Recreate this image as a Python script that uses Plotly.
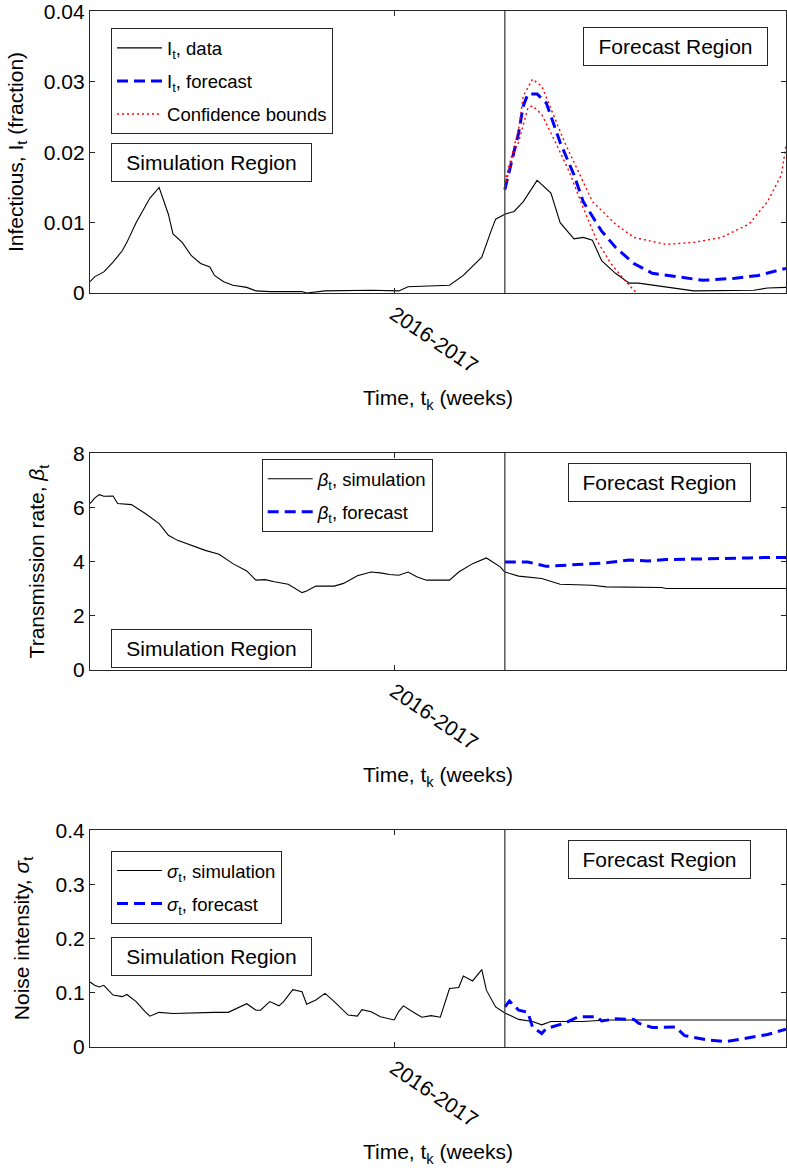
import plotly.graph_objects as go

FONT = "Liberation Sans, Arial, sans-serif"
AX = "#262626"

# ---------------- data ----------------
x_range = [0, 151]
forecast_start = 90
tick_week = [66]
tick_text = ["2016-2017"]

I_ticks = [0, 0.01, 0.02, 0.03, 0.04]
I_tick_text = ["0", "0.01", "0.02", "0.03", "0.04"]
beta_ticks = [0, 2, 4, 6, 8]
beta_tick_text = ["0", "2", "4", "6", "8"]
sig_ticks = [0, 0.1, 0.2, 0.3, 0.4]
sig_tick_text = ["0", "0.1", "0.2", "0.3", "0.4"]

# Top panel: infectious fraction
I_data_w = [0, 1, 3, 5, 7, 8, 10, 12, 13, 15, 17, 18, 20, 22, 24, 26, 27, 29, 31, 34,
            36, 39, 46, 47, 51, 61, 67, 69, 78, 81, 85, 87, 88, 90, 92, 94, 97, 100, 102, 105,
            107, 109, 111, 114, 117, 119, 124, 131, 144, 147, 151]
I_data_v = [0.0016, 0.0023, 0.0030, 0.0044, 0.0060, 0.0072, 0.0100, 0.0123, 0.0135, 0.0150,
            0.0112, 0.0084, 0.0072, 0.0053, 0.0042, 0.0037, 0.0025, 0.0016, 0.0011, 0.0008,
            0.0003, 0.0002, 0.0002, 0.0000, 0.0003, 0.0004, 0.0003, 0.0009, 0.0011, 0.0025,
            0.0051, 0.0088, 0.0105, 0.0112, 0.0116, 0.0130, 0.0160, 0.0142, 0.0100, 0.0077,
            0.0079, 0.0075, 0.0046, 0.0028, 0.0014, 0.0014, 0.0009, 0.0003, 0.0004, 0.0007,
            0.0008]
I_fc_w = [90, 92, 93, 94, 95, 97, 99, 102, 105, 107, 111, 114, 118, 122, 129, 133, 140, 145, 151]
I_fc_v = [0.0147, 0.0200, 0.0228, 0.0266, 0.0283, 0.0283, 0.0270, 0.0214, 0.0168, 0.0130,
          0.0088, 0.0065, 0.0042, 0.0028, 0.0021, 0.0018, 0.0021, 0.0025, 0.0035]
ub_w = [90, 93, 94, 96, 98, 100, 103, 106, 109, 114, 118, 125, 131, 137, 143, 147, 150, 151]
ub_v = [0.0158, 0.0233, 0.0280, 0.0304, 0.0294, 0.0261, 0.0214, 0.0172, 0.0130, 0.0098,
        0.0079, 0.0069, 0.0072, 0.0079, 0.0098, 0.0130, 0.0168, 0.0210]
lb_w = [90, 92, 93, 95, 96, 98, 101, 104, 107, 110, 113, 116, 118, 119, 121]
lb_v = [0.0151, 0.0200, 0.0215, 0.0263, 0.0266, 0.0254, 0.0214, 0.0172, 0.0121, 0.0074,
        0.0042, 0.0018, 0.0004, -0.0002, -0.0015]

# Middle panel: transmission rate
beta_w = [0, 1, 2, 3, 5, 6, 9, 12, 15, 17, 19, 22, 25, 28, 31, 34, 36, 38, 40, 43,
          44, 46, 47, 49, 53, 55, 58, 61, 63, 65, 67, 69, 71, 73, 78, 80, 83, 86, 89, 90,
          93, 98, 102, 109, 112, 124, 125, 151]
beta_v = [6.15, 6.35, 6.48, 6.42, 6.43, 6.15, 6.11, 5.78, 5.41, 4.98, 4.79, 4.61, 4.42, 4.28,
          3.93, 3.66, 3.32, 3.34, 3.26, 3.17, 3.07, 2.86, 2.92, 3.10, 3.10, 3.20, 3.48, 3.62,
          3.59, 3.53, 3.50, 3.62, 3.44, 3.32, 3.32, 3.62, 3.93, 4.14, 3.81, 3.62, 3.47, 3.38,
          3.17, 3.13, 3.07, 3.05, 3.01, 3.01]
beta_fc_w = [90, 95, 99, 104, 108, 112, 117, 121, 125, 130, 134, 138, 143, 147, 151]
beta_fc_v = [3.99, 3.99, 3.83, 3.87, 3.91, 3.96, 4.06, 4.03, 4.08, 4.09, 4.10, 4.12, 4.14,
             4.16, 4.16]

# Bottom panel: noise intensity
sig_w = [0, 1, 2, 3, 5, 7, 8, 10, 12, 13, 15, 18, 27, 30, 34, 36, 37, 39, 41, 42,
         44, 46, 47, 49, 51, 53, 56, 58, 59, 61, 63, 66, 67, 68, 70, 72, 74, 76, 78, 80,
         81, 83, 85, 86, 88, 90, 93, 96, 98, 100, 107, 112, 151]
sig_v = [0.120, 0.114, 0.111, 0.114, 0.096, 0.093, 0.097, 0.084, 0.065, 0.057,
         0.064, 0.062, 0.064, 0.064, 0.080, 0.068, 0.068, 0.084, 0.076, 0.084,
         0.106, 0.102, 0.079, 0.087, 0.099, 0.084, 0.059, 0.057, 0.069, 0.065,
         0.056, 0.050, 0.066, 0.076, 0.065, 0.055, 0.058, 0.055, 0.108, 0.110,
         0.131, 0.122, 0.143, 0.105, 0.074, 0.063, 0.051, 0.047, 0.041, 0.047,
         0.047, 0.050, 0.050]
sig_fc_w = [90, 91, 93, 95, 96, 98, 99, 103, 106, 108, 110, 111, 114, 118, 119, 122, 127,
            129, 134, 138, 142, 147, 151]
sig_fc_v = [0.074, 0.085, 0.068, 0.064, 0.037, 0.025, 0.034, 0.044, 0.056, 0.056, 0.056,
            0.048, 0.052, 0.051, 0.044, 0.036, 0.037, 0.021, 0.013, 0.010, 0.016, 0.023,
            0.033]

# ---------------- styles ----------------
BLACK = dict(color="black", width=1.1)
BLUE = dict(color="#0000ff", width=3, dash="11px,6px")
RED = dict(color="#ff0000", width=1.4, dash="2px,3px")

fig = go.Figure()

# top
fig.add_trace(go.Scatter(x=I_data_w, y=I_data_v, mode="lines", line=BLACK,
                         name="I<sub>t</sub>, data", legendgroup="a", legend="legend",
                         xaxis="x", yaxis="y"))
fig.add_trace(go.Scatter(x=I_fc_w, y=I_fc_v, mode="lines", line=BLUE,
                         name="I<sub>t</sub>, forecast", legendgroup="b", legend="legend",
                         xaxis="x", yaxis="y"))
fig.add_trace(go.Scatter(x=ub_w, y=ub_v, mode="lines", line=RED,
                         name="Confidence bounds", legendgroup="c", legend="legend",
                         xaxis="x", yaxis="y"))
fig.add_trace(go.Scatter(x=lb_w, y=lb_v, mode="lines", line=RED,
                         name="Confidence bounds", legendgroup="c", legend="legend",
                         showlegend=False, xaxis="x", yaxis="y"))
# middle
fig.add_trace(go.Scatter(x=beta_w, y=beta_v, mode="lines", line=BLACK,
                         name="<i>β</i><sub>t</sub>, simulation", legendgroup="d",
                         legend="legend2", xaxis="x2", yaxis="y2"))
fig.add_trace(go.Scatter(x=beta_fc_w, y=beta_fc_v, mode="lines", line=BLUE,
                         name="<i>β</i><sub>t</sub>, forecast", legendgroup="e",
                         legend="legend2", xaxis="x2", yaxis="y2"))
# bottom
fig.add_trace(go.Scatter(x=sig_w, y=sig_v, mode="lines", line=BLACK,
                         name="<i>σ</i><sub>t</sub>, simulation", legendgroup="f",
                         legend="legend3", xaxis="x3", yaxis="y3"))
fig.add_trace(go.Scatter(x=sig_fc_w, y=sig_fc_v, mode="lines", line=BLUE,
                         name="<i>σ</i><sub>t</sub>, forecast", legendgroup="g",
                         legend="legend3", xaxis="x3", yaxis="y3"))


def xax(anchor):
    return dict(range=x_range, tickmode="array", tickvals=tick_week, ticktext=tick_text,
                tickangle=34, ticks="inside", ticklen=5, tickcolor=AX, tickwidth=1,
                showline=True, linecolor=AX, linewidth=1.2, mirror="ticks",
                showgrid=False, zeroline=False, anchor=anchor, domain=[0, 1],
                tickfont=dict(size=21, color="black", family=FONT),
                title=dict(text="Time, t<sub>k</sub> (weeks)", standoff=14,
                           font=dict(size=21, color="black", family=FONT)),
                automargin=False)


def yax(anchor, domain, rng, tv, tt, title, standoff):
    return dict(range=rng, tickmode="array", tickvals=tv, ticktext=tt,
                ticks="inside", ticklen=5, tickcolor=AX, ticklabeloverflow="allow",
                showline=True, linecolor=AX, linewidth=1.2, mirror="ticks",
                showgrid=False, zeroline=False, anchor=anchor, domain=domain,
                tickfont=dict(size=21, color="black", family=FONT),
                title=dict(text=title, standoff=standoff,
                           font=dict(size=21, color="black", family=FONT)),
                automargin=False)


def leg(x, y):
    return dict(x=x, y=y, xanchor="left", yanchor="top", bordercolor=AX, borderwidth=1,
                bgcolor="white", tracegroupgap=6, itemwidth=45,
                font=dict(size=18.5, color="black", family=FONT))


def region(text, xref, yref, x, y, w):
    return dict(text=text, xref=xref, yref=yref, x=x, y=y, xanchor="left", yanchor="top",
                showarrow=False, bordercolor=AX, borderwidth=1, borderpad=3,
                width=w, height=31, align="center",
                font=dict(size=21, color="black", family=FONT))


annotations = [
    region("Simulation Region", "x domain", "y domain", 0.0302, 0.5309, 193),
    region("Forecast Region", "x domain", "y domain", 0.7088, 0.9422, 177),
    region("Simulation Region", "x2 domain", "y2 domain", 0.0302, 0.1876, 193),
    region("Forecast Region", "x2 domain", "y2 domain", 0.6872, 0.9525, 175),
    region("Simulation Region", "x3 domain", "y3 domain", 0.0302, 0.5055, 193),
    region("Forecast Region", "x3 domain", "y3 domain", 0.6872, 0.9539, 175),
]

shapes = [dict(type="line", xref=xr, yref=yr + " domain", x0=forecast_start, x1=forecast_start,
               y0=0, y1=1, line=dict(color="#404040", width=1.3))
          for xr, yr in [("x", "y"), ("x2", "y2"), ("x3", "y3")]]

fig.update_layout(
    width=787, height=1174,
    margin=dict(l=90, r=1, t=7, b=127, autoexpand=False),
    paper_bgcolor="white", plot_bgcolor="white",
    font=dict(family=FONT, color="black", size=21),
    xaxis=xax("y"), xaxis2=xax("y2"), xaxis3=xax("y3"),
    yaxis=yax("x", [0.725, 0.9962], [0, 0.0401], I_ticks, I_tick_text,
              "Infectious, I<sub>t</sub> (fraction)", 14),
    yaxis2=yax("x2", [0.3625, 0.5712], [0, 8.02], beta_ticks, beta_tick_text,
               "Transmission rate, <i>β</i><sub>t</sub>", 22),
    yaxis3=yax("x3", [0, 0.2087], [0, 0.401], sig_ticks, sig_tick_text,
               "Noise intensity, <i>σ</i><sub>t</sub>", 20),
    legend=leg(0.0302, 0.9795),
    legend2=leg(0.2467, 0.5651),
    legend3=leg(0.0302, 0.1885),
    annotations=annotations,
    shapes=shapes,
)

fig.write_html(
    "out.html",
    config={"displayModeBar": False},
    post_script="document.body.style.margin='0';document.body.style.padding='0';"
                "document.documentElement.style.overflow='hidden';",
)
